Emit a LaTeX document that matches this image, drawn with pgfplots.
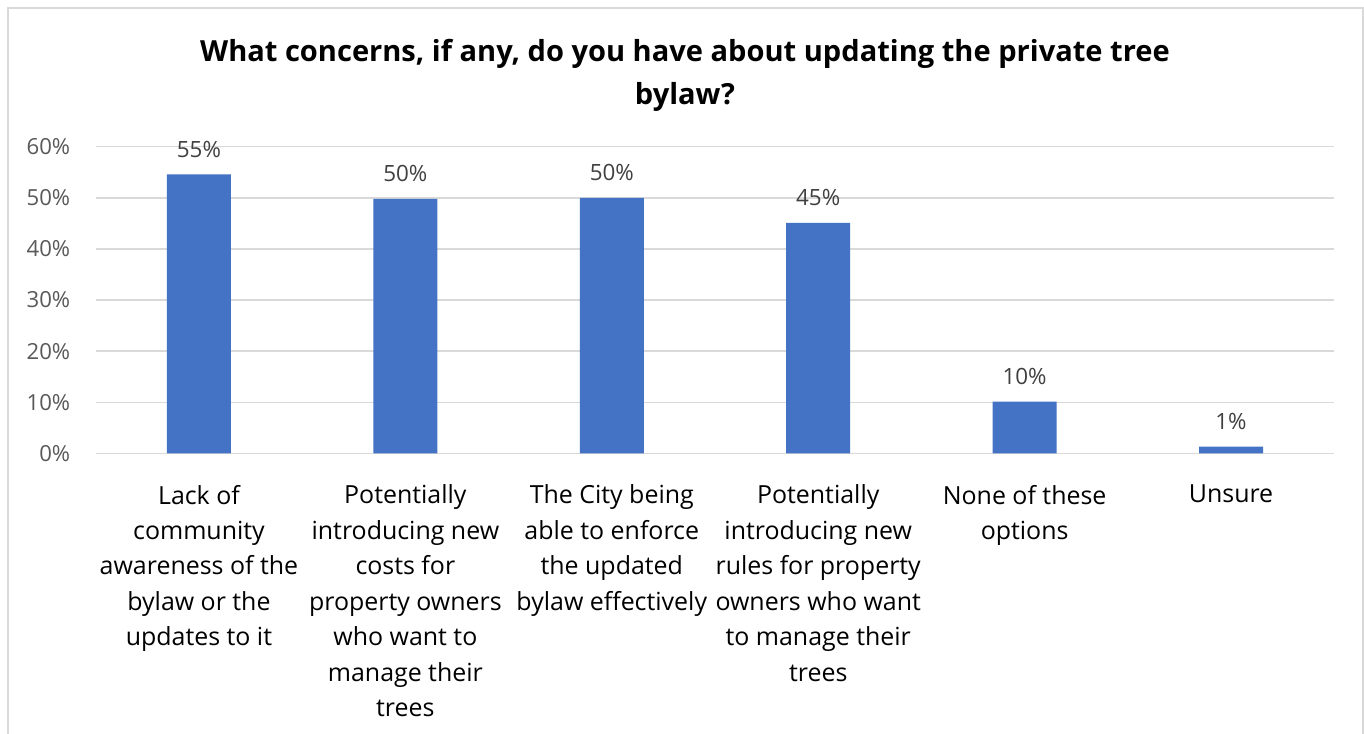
\documentclass[border=0pt]{standalone}
\usepackage{pgfplots}
\pgfplotsset{compat=1.18}
\usepackage{fontspec}
\setmainfont{Open Sans}
\definecolor{barblue}{HTML}{4472C4}
\definecolor{gridgray}{HTML}{D9D9D9}
\definecolor{ticktext}{HTML}{595959}
\definecolor{lbltext}{HTML}{404040}
\pgfplotstableread{
x y lbl
0 54.6 55
1 49.8 50
2 50.0 50
3 45.1 45
4 10.1 10
5 1.3 1
}\datatable
\begin{document}
\begin{tikzpicture}
\useasboundingbox (0,0) rectangle (1023pt,-550.5pt);
\fill[white] (0,0) rectangle (1023pt,-550.5pt);
\draw[gridgray, line width=1.5pt] (6pt,-550.5pt) -- (6pt,-6pt) -- (1021.9pt,-6pt) -- (1021.9pt,-550.5pt);
\node[font=\bfseries\fontsize{21.8}{32.25}\selectfont, align=center, inner sep=0pt] at (513.75pt,-56.5pt) {What concerns, if any, do you have about updating the private tree\\bylaw?};
\begin{axis}[
  at={(71.8pt,-340pt)}, anchor=south west,
  scale only axis, width=928.9pt, height=229.95pt,
  xmin=-0.5, xmax=5.5, ymin=0, ymax=60,
  ybar, bar width=48pt,
  axis line style={draw=none},
  major tick length=0pt,
  ymajorgrids, grid style={gridgray, line width=1pt},
  ytick={0,10,20,30,40,50,60},
  yticklabel={\pgfmathprintnumber{\tick}\%},
  /pgf/number format/assume math mode=true,
  yticklabel style={font=\fontsize{16.6}{19}\selectfont, text=ticktext, anchor=east, inner sep=0pt, xshift=-19pt},
  xtick={0,1,2,3,4,5},
  xticklabels={
    {Lack of\\community\\awareness of the\\bylaw or the\\updates to it},
    {Potentially\\introducing new\\costs for\\property owners\\who want to\\manage their\\trees},
    {The City being\\able to enforce\\the updated\\bylaw effectively},
    {Potentially\\introducing new\\rules for property\\owners who want\\to manage their\\trees},
    {None of these\\options},
    {Unsure}},
  xticklabel style={font=\fontsize{18.7}{26.6}\selectfont, text=black, align=center, anchor=north, inner sep=0pt, yshift=-23.5pt},
  nodes near coords={\pgfplotspointmeta\%},
  point meta=explicit symbolic,
  nodes near coords style={font=\fontsize{16.8}{19}\selectfont, text=lbltext, anchor=south, inner sep=0pt, yshift=12.5pt},
]
\addplot[fill=barblue, draw=none] table[x=x, y=y, meta=lbl] {\datatable};
\end{axis}
\end{tikzpicture}
\end{document}
